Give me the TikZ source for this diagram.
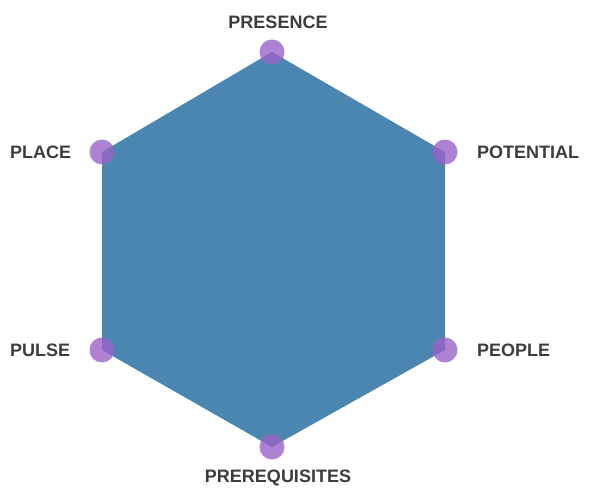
\documentclass[tikz,border=0pt]{standalone}
\usepackage{fontspec}
\setmainfont{Liberation Sans}
\definecolor{hexblue}{HTML}{4A86B0}
\definecolor{dotpurple}{HTML}{9A62C8}
\definecolor{labelgray}{HTML}{3C3C3C}
\begin{document}
\begin{tikzpicture}[x=1pt,y=-1pt,
  dot/.style={circle,fill=dotpurple,fill opacity=0.8,minimum size=25pt,inner sep=0pt},
  lbl/.style={font=\bfseries\fontsize{18}{18}\selectfont,text=labelgray,inner sep=0pt}]
\useasboundingbox (0,0) rectangle (589,492);
\coordinate (v1) at (272,52);
\coordinate (v2) at (445,152);
\coordinate (v3) at (445,350);
\coordinate (v4) at (272,447);
\coordinate (v5) at (102,350);
\coordinate (v6) at (102,152);
\fill[hexblue] (v1) -- (v2) -- (v3) -- (v4) -- (v5) -- (v6) -- cycle;
\node[dot] (d1) at (v1) {};
\node[dot] (d2) at (v2) {};
\node[dot] (d3) at (v3) {};
\node[dot] (d4) at (v4) {};
\node[dot] (d5) at (v5) {};
\node[dot] (d6) at (v6) {};
\node[lbl] (presence) at (278,22) {PRESENCE};
\node[lbl,anchor=west] (potential) at (477,152) {POTENTIAL};
\node[lbl,anchor=west] (people) at (477,350) {PEOPLE};
\node[lbl] (prereq) at (278,478) {PREREQUISITES};
\node[lbl,anchor=west] (place) at (10,152) {PLACE};
\node[lbl,anchor=west] (pulse) at (10,350) {PULSE};
\end{tikzpicture}
\end{document}
